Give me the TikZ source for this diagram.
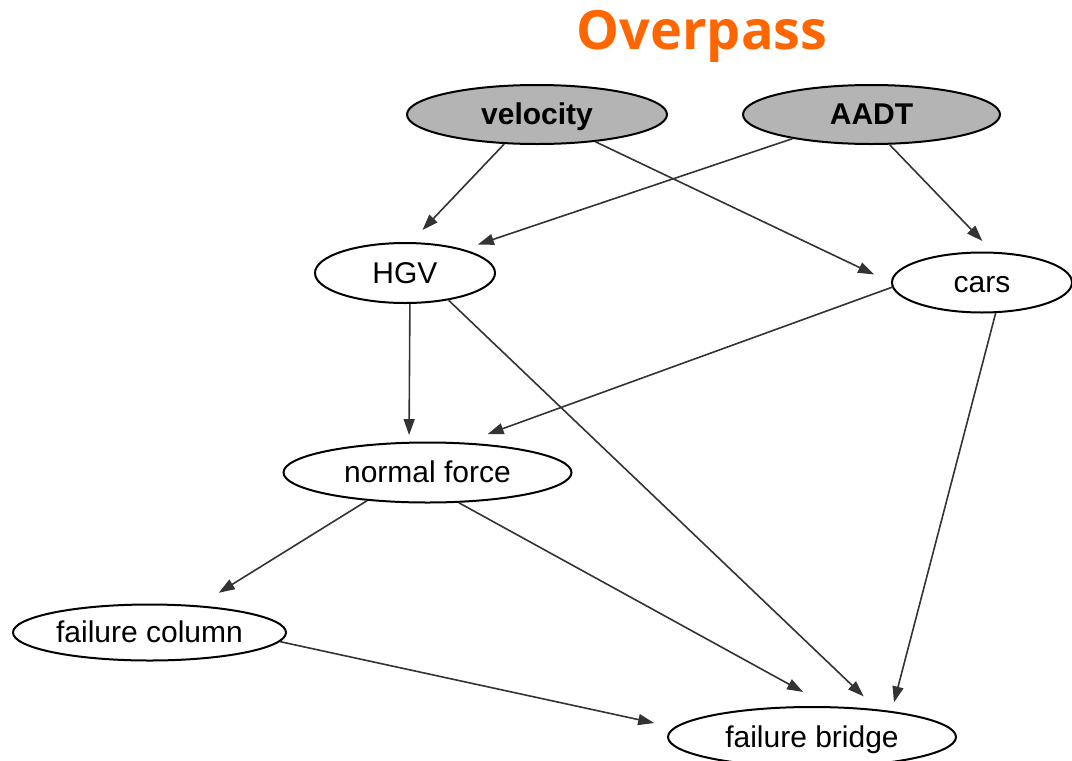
\documentclass[tikz,border=0pt]{standalone}
\usepackage{fontspec}
\setmainfont{Liberation Sans}
\newfontfamily\titlefont{Open Sans}
\usetikzlibrary{shapes.geometric,arrows.meta}
\definecolor{evidence}{RGB}{180,180,180}
\definecolor{edgegray}{RGB}{51,51,51}
\definecolor{titleorange}{RGB}{255,102,0}
\begin{document}
\begin{tikzpicture}[x=1pt,y=-1pt,
  var/.style={ellipse, draw=black, line width=2pt, inner sep=0pt, fill=white,
    text height=24pt, text depth=4pt, font=\fontsize{30}{36}\selectfont},
  observed/.style={var, fill=evidence, font=\fontsize{30}{36}\selectfont\bfseries},
  link/.style={draw=edgegray, line width=1.6pt, -{Triangle[length=16pt,width=11pt]}}]
\useasboundingbox (0,0) rectangle (1072,761);

% title
\node[anchor=base, inner sep=0pt, text=titleorange,
  font=\titlefont\bfseries\fontsize{54}{62}\selectfont] (title) at (702,49) {Overpass};

% variables
\node[observed, minimum width=260pt, minimum height=59pt] (velocity) at (537,114.5) {velocity};
\node[observed, minimum width=257pt, minimum height=59pt] (AADT) at (871.5,114.5) {AADT};
\node[var, minimum width=180pt, minimum height=60pt] (HGV) at (405,273) {HGV};
\node[var, minimum width=180pt, minimum height=60pt] (cars) at (982,282.5) {cars};
\node[var, minimum width=288pt, minimum height=60pt] (force) at (427.5,472.5) {normal force};
\node[var, minimum width=273pt, minimum height=56pt] (column) at (149.5,632.5) {failure column};
\node[var, minimum width=288pt, minimum height=60pt] (bridge) at (812,737) {failure bridge};

% dependencies
\draw[link, shorten >=16.6pt] (velocity.-138.1) -- (HGV.79.4);
\draw[link, shorten >=18.7pt] (velocity.-25.4) -- (cars.180);
\draw[link, shorten >=15pt] (AADT.-163.7) -- (HGV.22.3);
\draw[link, shorten >=14.8pt] (AADT.-59.1) -- (cars.71.1);
\draw[link, shorten >=6.7pt] (HGV.-81.5) -- (force.121.2);
\draw[link, shorten >=18.8pt] (HGV.-32.2) -- (bridge.23.3);
\draw[link, shorten >=24.6pt] (cars.-177) -- (force.39.4);
\draw[link, shorten >=9pt] (cars.-66.4) -- (bridge.18);
\draw[link, shorten >=24pt] (force.-155.4) -- (column.29.1);
\draw[link, shorten >=29.6pt] (force.-44.9) -- (bridge.61.8);
\draw[link, shorten >=20.5pt] (column.-4.5) -- (bridge.176.4);
\end{tikzpicture}
\end{document}
